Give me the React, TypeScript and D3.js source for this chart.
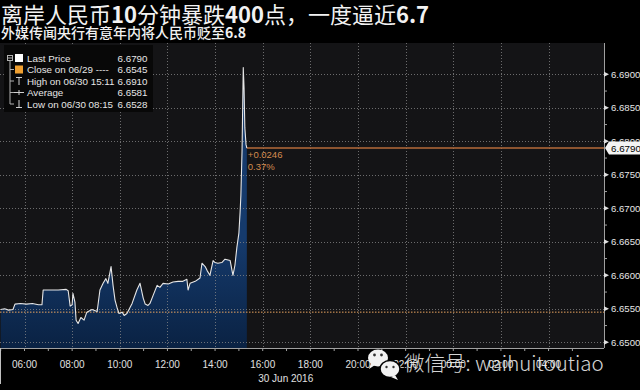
import React from 'react';
import * as d3 from 'd3';

const W = 640;
const H = 390;

// ---- data (USD/CNH intraday, 30 Jun 2016) ----
const times = [
  "05:00","05:10","05:20","05:31","05:36","05:50","06:05","06:20","06:35","06:44",
  "06:47","07:05","07:25","07:45","07:50","07:55","08:00","08:02","08:07","08:10",
  "08:15","08:22","08:30","08:37","08:50","09:03","09:10","09:18","09:25","09:30",
  "09:38","09:43","09:48","09:53","09:58","10:06","10:11","10:18","10:31","10:43",
  "10:51","10:59","11:04","11:11","11:16","11:24","11:34","11:41","11:49","12:02",
  "12:14","12:27","12:39","12:49","12:52","12:57","13:10","13:22","13:27","13:35",
  "13:40","13:47","13:55","14:00","14:07","14:17","14:25","14:38","14:45","14:50",
  "14:55","15:00","15:03","15:05","15:08","15:11","15:13","15:15","15:18","15:20"
];
const prices = [
  6.6549,6.6550,6.6548,6.6549,6.6557,6.6558,6.6557,6.6558,6.6556,6.6556,
  6.6578,6.6578,6.6578,6.6579,6.6577,6.6554,6.6556,6.6573,6.6560,6.6533,
  6.6528,6.6537,6.6533,6.6545,6.6549,6.6546,6.6578,6.6588,6.6595,6.6588,
  6.6613,6.6585,6.6563,6.6552,6.6543,6.6545,6.6540,6.6543,6.6558,6.6578,
  6.6588,6.6566,6.6557,6.6555,6.6558,6.6570,6.6585,6.6582,6.6588,6.6587,
  6.6590,6.6591,6.6591,6.6594,6.6578,6.6588,6.6591,6.6596,6.6618,6.6613,
  6.6607,6.6600,6.6622,6.6619,6.6618,6.6619,6.6624,6.6622,6.6600,6.6615,
  6.6642,6.6663,6.6694,6.6719,6.6787,6.6910,6.6880,6.6820,6.6795,6.6790
];

const lastPrice = 6.6790;
const prevClose = 6.6545;
const changeText = "+0.0246";
const changePct = "0.37%";

const legendLabels = ["Last Price", "Close on 06/29 ----", "High on 06/30 15:11", "Average", "Low on 06/30 08:15"];
const legendValues = ["6.6790", "6.6545", "6.6910", "6.6581", "6.6528"];

const yTickValues = [6.6500, 6.6550, 6.6600, 6.6650, 6.6700, 6.6750, 6.6800, 6.6850, 6.6900];
const xTickTimes = ["2016-06-30 06:00","2016-06-30 08:00","2016-06-30 10:00","2016-06-30 12:00","2016-06-30 14:00",
  "2016-06-30 16:00","2016-06-30 18:00","2016-06-30 20:00","2016-06-30 22:00","2016-07-01 00:00",
  "2016-07-01 02:00","2016-07-01 04:00"];
const dateLabel = "30 Jun 2016";

const titleParts = [["离岸人民币", false], ["10", true], ["分钟暴跌", false], ["400", true], ["点，一度逼近", false], ["6.7", true]];
const subtitleParts = [["外媒传闻央行有意年内将人民币贬至", false], ["6.8", true]];
const watermark = "微信号: waihuitoutiao";

const parse = d3.timeParse("%Y-%m-%d %H:%M");
const fmt = d3.timeFormat("%H:%M");

export default function App() {
  const plotL = 0, plotR = 604, plotT = 43, plotB = 348;

  const x = d3.scaleTime()
    .domain([parse("2016-06-30 06:00")!, parse("2016-06-30 20:00")!])
    .range([24.5, 358]);
  const y = d3.scaleLinear().domain([6.65, 6.69]).range([342.3, 74.3]);

  const data = times.map((t, i) => ({ d: parse("2016-06-30 " + t)!, v: prices[i] }));
  const line = d3.line<{ d: Date; v: number }>().x(p => x(p.d)).y(p => y(p.v));
  const area = d3.area<{ d: Date; v: number }>().x(p => x(p.d)).y0(plotB).y1(p => y(p.v));

  const xTicks = xTickTimes.map(s => parse(s)!);
  const hourTicks = d3.timeHour.range(parse("2016-06-30 05:00")!, parse("2016-07-01 06:00")!);
  const minorY = yTickValues.slice(0, -1).map((v, i) => (v + yTickValues[i + 1]) / 2);
  const lastX = x(data[data.length - 1].d);

  const sans = "'Liberation Sans', Arial, sans-serif";
  const cjk = "'Noto Sans CJK SC', sans-serif";

  const legendRowY = [58, 69.5, 81, 92.5, 104];

  return (
    <svg width={W} height={H} style={{ position: 'absolute', left: 0, top: 0, background: '#000' }}>
      <defs>
        <linearGradient id="fillG" gradientUnits="userSpaceOnUse" x1="0" y1="240" x2="0" y2={plotB}>
          <stop offset="0" stopColor="#153a6c" />
          <stop offset="1" stopColor="#0a2243" />
        </linearGradient>
        <clipPath id="plotClip"><rect x={plotL} y={plotT} width={plotR - plotL} height={plotB - plotT} /></clipPath>
      </defs>
      <rect x={0} y={0} width={W} height={H} fill="#000" />

      {/* titles */}
      <text x={1} y={22.5} fill="#f2f2f2" fontFamily={cjk} fontSize={22}>
        {titleParts.map(([t, b], i) => (
          <tspan key={i} fontWeight={b ? 700 : 400}>{t as string}</tspan>
        ))}
      </text>
      <text x={1} y={37.5} fill="#f2f2f2" fontFamily={cjk} fontSize={14}>
        {subtitleParts.map(([t, b], i) => (
          <tspan key={i} fontWeight={b ? 700 : 500}>{t as string}</tspan>
        ))}
      </text>

      {/* plot background */}
      <rect x={plotL} y={plotT} width={plotR - plotL} height={plotB - plotT} fill="#141416" />

      <g clipPath="url(#plotClip)">
        <path d={area(data)!} fill="url(#fillG)" />
        {/* grid */}
        {yTickValues.map(v => (
          <line key={'gy' + v} x1={plotL} x2={plotR} y1={Math.round(y(v)) + 0.5} y2={Math.round(y(v)) + 0.5}
            stroke="#8a8a8a" strokeWidth={1} strokeDasharray="1,2" opacity={0.75} />
        ))}
        {xTicks.map(t => (
          <line key={'gx' + t.getTime()} x1={Math.round(x(t)) + 0.5} x2={Math.round(x(t)) + 0.5} y1={plotT} y2={plotB}
            stroke="#8a8a8a" strokeWidth={1} strokeDasharray="1,2" opacity={0.75} />
        ))}
        {/* previous close */}
        <line x1={plotL} x2={plotR} y1={y(prevClose)} y2={y(prevClose)} stroke="#e8a460" strokeWidth={1} strokeDasharray="1.5,1.5" />
        {/* last price line */}
        <line x1={lastX} x2={plotR} y1={y(lastPrice)} y2={y(lastPrice)} stroke="#b56a3a" strokeWidth={1.5} />
        <path d={line(data)!} fill="none" stroke="#e6e6e6" strokeWidth={1.1} strokeLinejoin="round" />
        <text x={lastX + 1} y={y(lastPrice) + 10} fill="#d38b4f" fontFamily={sans} fontSize={9.5}>{changeText}</text>
        <text x={lastX + 1} y={y(lastPrice) + 21.5} fill="#d38b4f" fontFamily={sans} fontSize={9.5}>{changePct}</text>
      </g>

      {/* legend */}
      <rect x={4} y={45} width={149} height={67} fill="#080808" />
      <g stroke="#b0b0b0" strokeWidth={1} fill="none">
        <rect x={7.5} y={55.5} width={5} height={5} />
        <line x1={8} x2={12} y1={58} y2={58} />
        <line x1={10} x2={10} y1={61} y2={104} />
        {legendRowY.slice(1).map(ry => <line key={ry} x1={10} x2={14} y1={ry} y2={ry} />)}
      </g>
      <rect x={15} y={54} width={8} height={8} fill="#ffffff" />
      <rect x={15} y={65.5} width={8} height={8} fill="#f0a030" />
      <g stroke="#d0d0d0" strokeWidth={1}>
        <line x1={16} x2={22} y1={77.5} y2={77.5} />
        <line x1={19} x2={19} y1={77.5} y2={85} />
        <line x1={14} x2={24} y1={92.5} y2={92.5} />
        <line x1={19} x2={19} y1={90} y2={95} />
        <line x1={19} x2={19} y1={100} y2={107.5} />
        <line x1={16} x2={22} y1={107.5} y2={107.5} />
      </g>
      {legendLabels.map((l, i) => (
        <text key={l} x={27} y={legendRowY[i] + 3.8} fill="#e6e6e6" fontFamily={sans} fontSize={9.8}>{l}</text>
      ))}
      {legendValues.map((v, i) => (
        <text key={'v' + i} x={147.5} y={legendRowY[i] + 3.8} fill="#e6e6e6" fontFamily={sans} fontSize={9.8} textAnchor="end">{v}</text>
      ))}

      {/* right axis */}
      <line x1={plotR + 0.5} x2={plotR + 0.5} y1={plotT} y2={plotB} stroke="#a0a0a0" />
      {minorY.map(v => (
        <line key={'my' + v} x1={plotR} x2={plotR + 3} y1={y(v)} y2={y(v)} stroke="#a0a0a0" />
      ))}
      {yTickValues.map(v => (
        <g key={'ty' + v}>
          <path d={`M${plotR},${y(v) - 2.5}L${plotR + 5},${y(v)}L${plotR},${y(v) + 2.5}Z`} fill="#e0e0e0" />
          <text x={plotR + 7} y={y(v) + 3.5} fill="#e6e6e6" fontFamily={sans} fontSize={9.6}>{v.toFixed(4)}</text>
        </g>
      ))}
      <path d={`M${plotR + 1},${y(lastPrice)}L${plotR + 5},${y(lastPrice) - 6.5}H640V${y(lastPrice) + 6.5}H${plotR + 5}Z`} fill="#f4f4f4" />
      <text x={plotR + 7} y={y(lastPrice) + 3.6} fill="#000" fontFamily={sans} fontSize={9.8}>{lastPrice.toFixed(4)}</text>

      {/* bottom axis */}
      <line x1={plotL} x2={plotR} y1={plotB + 0.5} y2={plotB + 0.5} stroke="#a0a0a0" />
      {hourTicks.map(t => (
        <line key={'ht' + t.getTime()} x1={x(t)} x2={x(t)} y1={plotB} y2={plotB + 3} stroke="#a0a0a0" />
      ))}
      {xTicks.map(t => (
        <text key={'xl' + t.getTime()} x={x(t)} y={367.5} fill="#e0e0e0" fontFamily={sans} fontSize={10} textAnchor="middle">{fmt(t)}</text>
      ))}
      <text x={x(parse("2016-06-30 16:00")!) + 23} y={382} fill="#e0e0e0" fontFamily={sans} fontSize={10} textAnchor="middle">{dateLabel}</text>
      <line x1={0.5} x2={0.5} y1={plotB} y2={384} stroke="#c0c0c0" />

      {/* watermark */}
      <g>
        <ellipse cx={378} cy={358} rx={10} ry={8.5} fill="#f2f2f2" />
        <path d="M371,363 L369,369 L375,365 Z" fill="#f2f2f2" />
        <circle cx={374.5} cy={355} r={1.4} fill="#333" />
        <circle cx={381.5} cy={355} r={1.4} fill="#333" />
        <ellipse cx={390} cy={369} rx={10} ry={8.5} fill="#f2f2f2" stroke="#000" strokeWidth={1.5} />
        <path d="M395,375 L398,380 L391,377 Z" fill="#f2f2f2" />
        <circle cx={386.5} cy={367} r={1.2} fill="#333" />
        <circle cx={393.5} cy={367} r={1.2} fill="#333" />
      </g>
      <text x={404} y={371} fill="#ececec" opacity={0.9} fontFamily={cjk} fontWeight={300} fontSize={20.5}>{watermark}</text>
    </svg>
  );
}
